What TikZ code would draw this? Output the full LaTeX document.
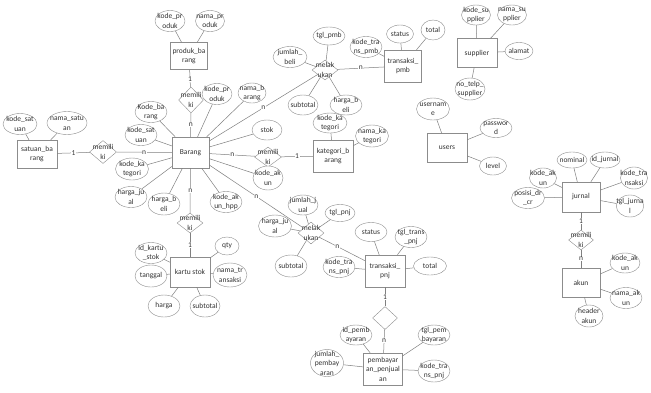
\documentclass[tikz,border=0pt]{standalone}
\usepackage{fontspec}
\setmainfont{Carlito}
\usepackage{tikz}
\usetikzlibrary{shapes.geometric}

\begin{document}
\begin{tikzpicture}[x=1pt,y=-1pt,font=\fontsize{7.5}{9.5}\selectfont,
    ent/.style={rectangle,draw=black!45,fill=white,text=black!80,align=center,inner sep=1pt,minimum width=38pt,minimum height=30pt},
    attr/.style={ellipse,draw=black!45,fill=white,text=black!80,align=center,inner sep=-4pt,minimum width=32pt,minimum height=21pt},
    rel/.style={diamond,draw=black!45,fill=white,inner sep=0pt,minimum width=26pt,minimum height=22pt},
    rtxt/.style={align=center,inner sep=0pt,text=black!80},
    card/.style={fill=white,inner sep=0.6pt,text=black!80},
    ln/.style={draw=black!50,line width=0.5pt}]
    \useasboundingbox[fill=white] (0,0) rectangle (651,392);
    \node[ent,minimum width=37pt,minimum height=27pt] (produk) at (189,56) {produk\_ba\\rang};
    \node[ent,minimum width=37pt,minimum height=31pt] (barang) at (190.5,152.5) {Barang};
    \node[ent,minimum width=40pt,minimum height=28pt] (satuan) at (37,154) {satuan\_ba\\rang};
    \node[ent,minimum width=40pt,minimum height=32pt] (kategori) at (333,156) {kategori\_b\\arang};
    \node[ent,minimum width=40pt] (kartu) at (190,272) {kartu stok};
    \node[ent,minimum width=37pt,minimum height=32pt] (trpmb) at (403,66) {transaksi\_\\pmb};
    \node[ent,minimum width=40pt,minimum height=29pt] (supplier) at (477,53) {supplier};
    \node[ent,minimum width=40pt,minimum height=29pt] (users) at (447,148) {users};
    \node[ent] (jurnal) at (581,197) {jurnal};
    \node[ent,minimum height=29pt] (akun) at (581,282.5) {akun};
    \node[ent,minimum width=40pt,minimum height=32pt] (trpnj) at (385,271) {transaksi\_\\pnj};
    \node[ent,minimum width=39pt,minimum height=32pt] (bayar) at (383,369) {pembayar\\an\_penjual\\an};
    \node[rel,minimum width=25pt,minimum height=26pt,label={[rtxt]center:{memili\\ki}}] (r1) at (191,100) {};
    \node[rel,minimum width=27pt,minimum height=23pt,label={[rtxt]center:{memili\\ki}}] (r2) at (103,152) {};
    \node[rel,minimum width=27pt,minimum height=20pt,label={[rtxt]center:{memili\\ki}}] (r3) at (268,157) {};
    \node[rel,minimum height=20pt,label={[rtxt]center:{memili\\ki}}] (r4) at (190,223) {};
    \node[rel,minimum height=20pt,label={[rtxt]center:{melak\\ukan}}] (r5) at (325,70) {};
    \node[rel,label={[rtxt]center:{melak\\ukan}}] (r6) at (311,233) {};
    \node[rel,minimum width=25pt,minimum height=23pt] (r7) at (385,318) {};
    \node[rel,minimum width=25pt,minimum height=20pt,label={[rtxt]center:{memili\\ki}}] (r8) at (581,240) {};
    \node[attr,minimum width=30pt] (pa1) at (170,21) {kode\_pr\\oduk};
    \node[attr,minimum width=29pt] (pa2) at (210,21) {nama\_pr\\oduk};
    \node[attr,minimum width=34pt] (sa1) at (20,124) {kode\_sat\\uan};
    \node[attr,minimum width=40pt,minimum height=23pt] (sa2) at (67,123) {nama\_satu\\an};
    \node[attr] (ba1) at (151,112) {Kode\_ba\\rang};
    \node[attr] (ba2) at (141,135) {kode\_sat\\uan};
    \node[attr,minimum width=33pt,minimum height=22pt] (ba3) at (132,169) {kode\_ka\\tegori};
    \node[attr] (ba4) at (131,197) {harga\_ju\\al};
    \node[attr,minimum height=22pt] (ba5) at (164,204) {harga\_b\\eli};
    \node[attr] (ba6) at (226,202) {kode\_ak\\un\_hpp};
    \node[attr,minimum width=30pt,minimum height=24pt] (ba7) at (268,178) {kode\_ak\\un};
    \node[attr,minimum width=30pt,minimum height=20pt] (ba8) at (267,130) {stok};
    \node[attr,minimum width=30pt] (ba9) at (217,94) {kode\_pr\\oduk};
    \node[attr,minimum width=28pt,minimum height=20pt] (ba10) at (252,93) {nama\_b\\arang};
    \node[attr,minimum width=34pt,minimum height=20pt] (ka1) at (330,123) {kode\_ka\\tegori};
    \node[attr,minimum width=33pt,minimum height=22pt] (ka2) at (372,136) {nama\_ka\\tegori};
    \node[attr] (ks1) at (151,253) {id\_kartu\\\_stok};
    \node[attr,minimum height=22pt] (ks2) at (151,276) {tanggal};
    \node[attr,minimum height=22pt] (ks3) at (164,306) {harga};
    \node[attr,minimum width=30pt,minimum height=22pt] (ks4) at (205,306) {subtotal};
    \node[attr,minimum width=24pt,minimum height=18pt] (ks5) at (227,246) {qty};
    \node[attr,minimum width=34pt,minimum height=24pt] (ks6) at (230,275) {nama\_tr\\ansaksi};
    \node[attr,minimum width=34pt] (m1) at (290,57) {jumlah\_\\beli};
    \node[attr,minimum height=18pt] (m2) at (329,36) {tgl\_pmb};
    \node[attr,minimum width=30pt,minimum height=20pt] (m3) at (303,105) {subtotal};
    \node[attr,minimum height=20pt] (m4) at (346,105) {harga\_b\\eli};
    \node[attr] (tb1) at (366,47) {kode\_tra\\ns\_pmb};
    \node[attr,minimum width=27pt,minimum height=18pt] (tb2) at (400,34) {status};
    \node[attr,minimum width=24pt,minimum height=20pt] (tb3) at (433,30) {total};
    \node[attr,minimum width=29pt,minimum height=20pt] (su1) at (476,15) {kode\_su\\pplier};
    \node[attr,minimum width=29pt,minimum height=20pt] (su2) at (512,15) {nama\_su\\pplier};
    \node[attr,minimum width=28pt,minimum height=17pt] (su3) at (519,51) {alamat};
    \node[attr,minimum width=30pt,minimum height=22pt] (su4) at (470,89) {no\_telp\_\\supplier};
    \node[attr,minimum width=33pt,minimum height=22pt] (us1) at (433,109) {usernam\\e};
    \node[attr,minimum height=19pt] (us2) at (496,128) {passwor\\d};
    \node[attr,minimum width=27pt,minimum height=18pt] (us3) at (493,166) {level};
    \node[attr,minimum width=30pt,minimum height=16pt] (ju1) at (572,160) {nominal};
    \node[attr,minimum width=30pt,minimum height=16pt] (ju2) at (605,160) {id\_jurnal};
    \node[attr,minimum width=27pt,minimum height=22pt] (ju3) at (634,178) {kode\_tra\\nsaksi};
    \node[attr,minimum width=26pt,minimum height=22pt] (ju4) at (630,206) {tgl\_jurna\\l};
    \node[attr,minimum width=27pt,minimum height=20pt] (ju5) at (543,178) {kode\_ak\\un};
    \node[attr,minimum width=33pt] (ju6) at (528,198) {posisi\_dr\\\_cr};
    \node[attr,minimum width=30pt,minimum height=20pt] (ak1) at (625,263) {kode\_ak\\un};
    \node[attr] (ak2) at (626,298) {nama\_ak\\un};
    \node[attr,minimum width=28pt,minimum height=22pt] (ak3) at (589,316) {header\\akun};
    \node[attr,minimum width=30pt,minimum height=20pt] (n1) at (303,205) {jumlah\_j\\ual};
    \node[attr,minimum width=30pt,minimum height=17pt] (n2) at (340,213) {tgl\_pnj};
    \node[attr,minimum width=33pt,minimum height=22pt] (n3) at (275,226) {harga\_ju\\al};
    \node[attr,minimum height=22pt] (n4) at (291,266) {subtotal};
    \node[attr] (tp1) at (339,267) {kode\_tra\\ns\_pnj};
    \node[attr,minimum height=19pt] (tp2) at (371,232) {status};
    \node[attr] (tp3) at (411,237) {tgl\_trans\\\_pnj};
    \node[attr,minimum width=33pt,minimum height=18pt] (tp4) at (430,266) {total};
    \node[attr,minimum height=20pt] (py1) at (356,335) {id\_pemb\\ayaran};
    \node[attr,minimum height=20pt] (py2) at (434,335) {tgl\_pem\\bayaran};
    \node[attr,minimum width=33pt,minimum height=27pt] (py3) at (327,363) {jumlah\_\\pembay\\aran};
    \node[attr,minimum height=22pt] (py4) at (434,371) {kode\_tra\\ns\_pnj};
    \foreach\a/\b in {pa1/produk,pa2/produk,sa1/satuan,sa2/satuan,ba1/barang,ba2/barang,ba3/barang,ba4/barang,ba5/barang,ba6/barang,ba7/barang,ba8/barang,ba9/barang,ba10/barang,ka1/kategori,ka2/kategori,ks1/kartu,ks2/kartu,ks3/kartu,ks4/kartu,ks5/kartu,ks6/kartu,m1/r5,m2/r5,m3/r5,m4/r5,tb1/trpmb,tb2/trpmb,tb3/trpmb,su1/supplier,su2/supplier,su3/supplier,su4/supplier,us1/users,us2/users,us3/users,ju1/jurnal,ju2/jurnal,ju3/jurnal,ju4/jurnal,ju5/jurnal,ju6/jurnal,ak1/akun,ak2/akun,ak3/akun,n1/r6,n2/r6,n3/r6,n4/r6,tp1/trpnj,tp2/trpnj,tp3/trpnj,tp4/trpnj,py1/bayar,py2/bayar,py3/bayar,py4/bayar}{\draw[ln] (\a) -- (\b);}
    \draw[ln] (produk) -- node[card,pos=0.55]{1} (r1);
    \draw[ln] (r1) -- node[card]{n} (barang);
    \draw[ln] (satuan) -- node[card]{1} (r2);
    \draw[ln] (r2) -- node[card]{n} (barang);
    \draw[ln] (barang) -- node[card]{n} (r3);
    \draw[ln] (r3) -- node[card]{1} (kategori);
    \draw[ln] (barang) -- node[card]{n} (r4);
    \draw[ln] (r4) -- node[card]{1} (kartu);
    \draw[ln] (barang) -- node[card]{n} (r5);
    \draw[ln] (r5) -- node[card]{n} (trpmb);
    \draw[ln] (barang) -- node[card]{n} (r6);
    \draw[ln] (r6) -- node[card,pos=0.4]{n} (trpnj);
    \draw[ln] (trpnj) -- node[card]{1} (r7);
    \draw[ln] (r7) -- node[card]{n} (bayar);
    \draw[ln] (jurnal) -- node[card]{1} (r8);
    \draw[ln] (r8) -- node[card]{n} (akun);
\end{tikzpicture}
\end{document}
